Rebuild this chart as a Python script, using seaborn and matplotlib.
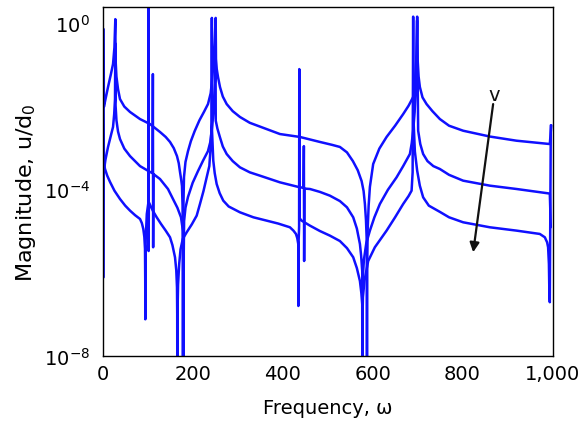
import numpy as np
import pandas as pd
import matplotlib
matplotlib.use("Agg")
import matplotlib.pyplot as plt
from matplotlib.ticker import NullLocator
import seaborn as sns

# ---- data: frequency (omega) and log10 of magnitude ----
c1_freq = [2.0, 2.6, 6, 11.8, 18, 22.9, 26, 28.0, 28.6, 30.5, 34, 38.4, 48, 60.7, 82.9, 105.1,
           127.3, 140, 149.6, 158, 165.1, 169, 171.8, 174.5, 176.2, 177.5, 178.1, 178.4, 178.8,
           179.6, 180.7, 184, 189.6, 196, 204.4, 215, 225, 234.0, 240, 242.2, 244.5, 246.2,
           248.5, 251.1, 251.8, 253.5, 256.5, 260.7, 267, 275.6, 289, 305.1, 327, 351.8, 394.0,
           438.4, 482.9, 510, 527.3, 543, 556.2, 567, 575.6, 580, 582.9, 585.3, 586.7, 587.2,
           587.5, 587.9, 589.0, 591.2, 594.0, 601.3, 615, 631.1, 650, 668.0, 680, 690.2, 694.5,
           697.8, 699.1, 700.2, 702.3, 705.1, 711, 720.0, 733, 749.6, 770, 801.3, 860.7, 920.0,
           994.0, 997.3]
c1_logmag = [-0.16, -2.03, -1.85, -1.55, -1.25, -1.00, -0.6, 0.08, -0.9, -1.3, -1.6, -1.84,
             -2.02, -2.15, -2.32, -2.44, -2.63, -2.75, -2.87, -3.02, -3.21, -3.38, -3.59, -3.78,
             -3.93, -4.4, -5.3, -9.0, -5.2, -4.3, -3.71, -3.35, -3.09, -2.85, -2.61, -2.35,
             -2.15, -1.96, -1.7, -1.48, -1.2, -0.88, -0.5, 0.11, -0.88, -1.12, -1.32, -1.55,
             -1.78, -1.96, -2.13, -2.27, -2.41, -2.51, -2.68, -2.75, -2.87, -2.94, -2.99, -3.12,
             -3.33, -3.55, -3.81, -4.05, -4.36, -4.75, -5.16, -6.0, -9.0, -6.0, -5.0, -4.4,
             -3.95, -3.40, -3.03, -2.75, -2.48, -2.20, -2.0, -1.79, -1.35, -0.76, 0.14, -0.9,
             -1.3, -1.55, -1.8, -1.96, -2.13, -2.32, -2.48, -2.60, -2.74, -2.84, -2.92, -2.47]

c2_freq = [2.0, 2.6, 6, 11.8, 18, 22.9, 25.5, 27.3, 28.0, 28.6, 30.5, 34, 38.4, 48, 60.7, 82.9,
           105.1, 110.8, 111.5, 112.1, 112.7, 127.3, 145.1, 156.2, 166, 174.0, 178.4, 179.3,
           179.8, 180.2, 180.9, 184, 189.6, 200, 211.8, 223, 234.0, 239, 242.2, 245, 247.5,
           249.3, 250.6, 251.3, 255, 260.7, 267, 275.6, 289, 305.1, 327, 349.6, 394.0, 438.4,
           446.5, 447.2, 447.8, 448.5, 460.7, 482.9, 505, 527.3, 543, 556.9, 565, 571.8, 574.5,
           576.9, 577.4, 577.6, 578, 579, 580.7, 586, 594.0, 604, 616.2, 634, 653.3, 668, 682.9,
           687, 690.2, 693.5, 696.0, 699.0, 701.3, 706, 712.4, 722, 735, 749.6, 770, 801.3,
           860.7, 920.0, 994.0, 996.2]
c2_logmag = [-2.0, -3.57, -3.3, -2.99, -2.72, -2.51, -2.2, -1.84, -0.5, -2.0, -2.35, -2.62,
             -2.80, -3.03, -3.21, -3.45, -3.59, -3.62, -1.24, -5.40, -3.64, -3.76, -4.00, -4.24,
             -4.45, -4.68, -5.01, -5.6, -9.0, -5.5, -4.77, -4.45, -4.19, -3.85, -3.57, -3.32,
             -3.09, -2.88, -2.60, -2.3, -1.9, -1.4, 0.0, -2.36, -2.55, -2.76, -2.98, -3.16,
             -3.33, -3.48, -3.60, -3.68, -3.84, -3.96, -3.97, -2.97, -5.73, -3.99, -4.00, -4.07,
             -4.16, -4.29, -4.44, -4.68, -4.95, -5.32, -5.6, -5.97, -6.6, -9.0, -6.5, -6.0, -5.7,
             -5.3, -5.0, -4.68, -4.36, -4.02, -3.72, -3.45, -3.16, -2.9, -2.60, -2.15, -1.5, 0.05,
             -2.60, -2.92, -3.16, -3.33, -3.45, -3.52, -3.66, -3.80, -3.92, -4.00, -4.11, -4.92]

c3_freq = [2.0, 2.3, 3.0, 5.1, 10, 16.2, 26, 38.4, 50, 60.7, 72, 82.9, 87, 90.2, 92.5, 94.0,
           94.5, 94.7, 95.0, 95.6, 98.0, 101.2, 101.6, 102.0, 102.6, 111.8, 120, 129.6, 140,
           149.6, 155, 160.7, 163.5, 165.1, 165.6, 165.8, 166.2, 167.5, 170, 173, 178.0, 186.7,
           198, 208.9, 216.2, 224, 231.1, 237, 240.5, 242.2, 242.6, 243.0, 245.8, 249, 253.3,
           260, 268.0, 280, 305.1, 335, 364.4, 390, 416.2, 424, 429.6, 432.5, 434.7, 435.0,
           435.4, 436.6, 437.0, 437.5, 442.2, 460.7, 482.9, 505, 527.3, 543, 556.9, 565, 571.8,
           575, 576.9, 577.3, 577.8, 578.5, 582, 590.2, 605, 631.1, 650, 668.0, 680, 686.7, 689,
           690.2, 690.8, 694, 699.1, 705, 712.4, 725, 749.6, 770, 801.3, 860.7, 920.0, 971.8,
           982.9, 988, 990.2, 992, 992.9, 994.0, 996.2]
c3_logmag = [-6.12, -3.0, -3.40, -3.52, -3.68, -3.83, -4.04, -4.24, -4.40, -4.52, -4.63, -4.72,
             -4.82, -4.96, -5.15, -5.44, -6.2, -7.13, -6.0, -5.2, -4.6, -4.35, 0.5, -5.49, -4.32,
             -4.53, -4.68, -4.84, -5.0, -5.16, -5.35, -5.64, -5.95, -6.36, -7.0, -9.0, -7.0,
             -6.3, -5.8, -5.45, -5.2, -5.04, -4.85, -4.64, -4.36, -4.05, -3.72, -3.45, -2.9,
             -2.4, 0.11, -2.6, -3.32, -3.62, -3.88, -4.1, -4.28, -4.42, -4.56, -4.68, -4.76,
             -4.83, -4.92, -5.0, -5.08, -5.18, -5.32, -6.81, -5.3, -4.9, -1.12, -4.7, -4.76,
             -4.88, -5.01, -5.12, -5.25, -5.42, -5.64, -5.9, -6.21, -6.5, -6.77, -9.0, -7.0,
             -6.6, -6.2, -5.73, -5.4, -5.00, -4.68, -4.36, -4.17, -4.04, -3.6, 0.14, -2.3, -3.1,
             -3.56, -3.92, -4.20, -4.40, -4.55, -4.68, -4.80, -4.92, -5.00, -5.08, -5.16, -5.28,
             -5.40, -5.8, -6.41, -6.72, -2.47]

curve_names = ["v1", "v2", "v3"]
x_ticks = [0, 200, 400, 600, 800, 1000]
x_tick_labels = ["0", "200", "400", "600", "800", "1,000"]
y_ticks = [1e-8, 1e-4, 1e0]
y_tick_labels = [r"$\mathregular{10^{-8}}$", r"$\mathregular{10^{-4}}$", r"$\mathregular{10^{0}}$"]
arrow_tail = (868.0, 10 ** -1.96)
arrow_head = (823.6, 10 ** -5.52)
arrow_label_pos = (871.0, 10 ** -1.72)

frames = []
for name, f, lm in zip(curve_names, [c1_freq, c2_freq, c3_freq], [c1_logmag, c2_logmag, c3_logmag]):
    frames.append(pd.DataFrame({"omega": f, "mag": 10.0 ** np.array(lm), "curve": name}))
df = pd.concat(frames, ignore_index=True)

sns.set_style("white")
plt.rcParams["font.family"] = ["DejaVu Sans"]
plt.rcParams["mathtext.fontset"] = "dejavusans"
plt.rcParams["text.color"] = "black"
plt.rcParams["axes.labelcolor"] = "black"

fig = plt.figure(figsize=(5.83, 4.27), dpi=100)
ax = fig.add_axes([0.1762, 0.1651, 0.7715, 0.815])

sns.lineplot(data=df, x="omega", y="mag", hue="curve", units="curve",
             palette=["#1010ff"] * 3, estimator=None, sort=False, legend=False,
             linewidth=1.8, ax=ax)

ax.set_yscale("log")
ax.set_xlim(0, 1000)
ax.set_ylim(1e-8, 10 ** 0.36)
ax.set_xticks(x_ticks)
ax.set_xticklabels(x_tick_labels)
ax.set_yticks(y_ticks)
ax.set_yticklabels(y_tick_labels)
ax.yaxis.set_minor_locator(NullLocator())
ax.tick_params(axis="both", length=0, labelsize=14, colors="black")
ax.tick_params(axis="x", pad=6)
ax.tick_params(axis="y", pad=9)

for s in ax.spines.values():
    s.set_color("black")
    s.set_linewidth(1.0)

ax.set_xlabel("Frequency, ω", fontsize=14, color="black")
ax.set_ylabel(r"Magnitude, u/d$\mathregular{_0}$", fontsize=16, color="black")
ax.xaxis.set_label_coords(0.5, -0.148)
ax.xaxis.label.set_verticalalignment("center")
ax.yaxis.set_label_coords(-0.17, 0.47)
ax.yaxis.label.set_verticalalignment("center")

ax.annotate("", xy=arrow_head, xytext=arrow_tail,
            arrowprops=dict(arrowstyle="-|>", color="#111111", lw=1.6,
                            mutation_scale=14, shrinkA=0, shrinkB=0))
ax.text(arrow_label_pos[0], arrow_label_pos[1], "v", fontsize=14, ha="center", va="center",
        color="#111111")

fig.savefig("out.png", dpi=100)
